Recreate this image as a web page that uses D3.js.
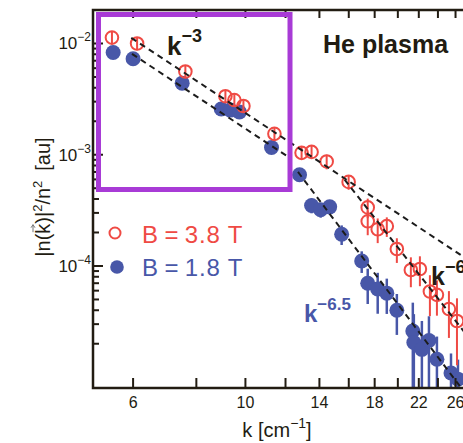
<!DOCTYPE html>
<html><head><meta charset="utf-8">
<script src="https://cdn.jsdelivr.net/npm/d3@7"></script>
<style>body{margin:0;background:#fff}svg{display:block}</style>
</head><body><svg id="c" width="463" height="443"></svg>
<script>
// ---- data ----
const kRed = [5.45, 6.11, 7.61, 9.13, 9.51, 9.91, 11.41, 12.91, 13.51, 14.47, 15.99, 17.44, 17.44, 18.25, 19.02, 19.91, 21.22, 22.11, 23.14, 23.89, 25.23, 26.17];
const vRed = [1.13e-2, 1.00e-2, 5.6e-3, 3.36e-3, 3.1e-3, 2.74e-3, 1.54e-3, 1.04e-3, 1.06e-3, 8.7e-4, 5.7e-4, 3.36e-4, 2.52e-4, 2.14e-4, 2.28e-4, 1.42e-4, 9.2e-5, 9.4e-5, 5.9e-5, 5.5e-5, 4.1e-5, 3.2e-5];
const eRed = [0.13, 0.13, 0.13, 0.13, 0.13, 0.13, 0.13, 0.13, 0.13, 0.15, 0.15, 0.2, 0.25, 0.25, 0.2, 0.25, 0.3, 0.3, 0.4, 0.35, 0.45, 0.6];

const kBlue = [5.48, 6.0, 7.50, 8.96, 9.34, 9.73, 11.26, 12.79, 13.51, 14.08, 14.67, 15.49, 16.97, 17.44, 18.25, 19.02, 19.91, 21.41, 21.51, 22.31, 23.04, 23.89, 25.47, 26.29];
const vBlue = [8.3e-3, 7.3e-3, 4.4e-3, 2.58e-3, 2.52e-3, 2.42e-3, 1.16e-3, 6.6e-4, 3.5e-4, 3.2e-4, 3.4e-4, 1.93e-4, 1.11e-4, 7.0e-5, 6.2e-5, 5.7e-5, 4.0e-5, 2.6e-5, 2.05e-5, 1.78e-5, 2.14e-5, 1.45e-5, 1.09e-5, 9.6e-6];
const eBlue = [0.12, 0.12, 0.12, 0.12, 0.12, 0.12, 0.12, 0.12, 0.15, 0.15, 0.15, 0.2, 0.22, 0.35, 0.4, 0.35, 0.4, 0.8, 0.8, 0.8, 0.65, 0.6, 0.5, 0.5];

// power-law guide lines: start/end points [k, value]
const lineStartK = [5.95, 5.97, 12.7, 15.7];
const lineStartV = [1.125e-2, 8.06e-3, 7.0e-4, 5.98e-4];
const lineEndK   = [30, 12.07, 26.8, 30];
const lineEndV   = [8.78e-5, 9.75e-4, 7.8e-6, 1.40e-5];

const xTicks = [6, 8, 10, 12, 14, 16, 18, 20, 22, 24, 26, 28, 30];
const xTickLabels = ["6", "", "10", "", "14", "", "18", "", "22", "", "26", "", "30"];
const yMajorTicks = [1e-4, 1e-3, 1e-2];
const yMajorLabels = ["\u22124", "\u22123", "\u22122"];

const legendLabels = ["B\u2009=\u20093.8 T", "B\u2009=\u20091.8 T"];

// ---- style ----
const RED = "#ef4a44", BLUE = "#4857a8", INK = "#221c12", PURPLE = "#a83bd6";
const FONT = "'Liberation Sans', Arial, Helvetica, sans-serif";

const svg = d3.select("#c").style("font-family", FONT);
const x = d3.scaleLog().domain([5, 30]).range([93, 487]);
const y = d3.scaleLog().domain([8e-6, 0.02]).range([388, 10]);
const X0 = 93, X1 = 470, Y0 = 388, Y1 = 10;

svg.append("defs").append("clipPath").attr("id", "plot")
  .append("rect").attr("x", X0).attr("y", Y1).attr("width", 400).attr("height", Y0 - Y1);

const plot = svg.append("g").attr("clip-path", "url(#plot)");

// blue series (filled)
const blue = kBlue.map((k, i) => ({k, v: vBlue[i], e: eBlue[i]}));
const red = kRed.map((k, i) => ({k, v: vRed[i], e: eRed[i]}));

plot.selectAll(".be").data(blue).join("line")
  .attr("x1", d => x(d.k)).attr("x2", d => x(d.k))
  .attr("y1", d => y(d.v * (1 + d.e))).attr("y2", d => y(Math.max(d.v * (1 - d.e), 1e-7)))
  .attr("stroke", BLUE).attr("stroke-width", 2.5);
plot.selectAll(".bc").data(blue).join("circle")
  .attr("cx", d => x(d.k)).attr("cy", d => y(d.v)).attr("r", 7.5)
  .attr("fill", BLUE);

plot.selectAll(".re").data(red).join("line")
  .attr("x1", d => x(d.k)).attr("x2", d => x(d.k))
  .attr("y1", d => y(d.v * (1 + d.e))).attr("y2", d => y(Math.max(d.v * (1 - d.e), 1e-7)))
  .attr("stroke", RED).attr("stroke-width", 2);
plot.selectAll(".rc").data(red).join("circle")
  .attr("cx", d => x(d.k)).attr("cy", d => y(d.v)).attr("r", 6.3)
  .attr("fill", "none").attr("stroke", RED).attr("stroke-width", 2);

// guide lines
const lines = lineStartK.map((k, i) => [[k, lineStartV[i]], [lineEndK[i], lineEndV[i]]]);
plot.selectAll(".fit").data(lines).join("path")
  .attr("d", d => d3.line().x(p => x(p[0])).y(p => y(p[1]))(d))
  .attr("fill", "none").attr("stroke", "#1c1c1c").attr("stroke-width", 2)
  .attr("stroke-dasharray", "6,4.5");

// axes frame
const ax = svg.append("g").attr("stroke", INK).attr("stroke-width", 2.5).attr("fill", "none");
ax.append("path").attr("d", `M${X0},${Y1}V${Y0}H${X1}M${X0},${Y1}H${X1}`).attr("stroke-linecap", "square");

// x ticks bottom and top
ax.selectAll(".xtb").data(xTicks).join("line")
  .attr("x1", d => x(d)).attr("x2", d => x(d)).attr("y1", Y0).attr("y2", Y0 - 10).attr("stroke-width", 2);
ax.selectAll(".xtt").data(xTicks).join("line")
  .attr("x1", d => x(d)).attr("x2", d => x(d)).attr("y1", Y1).attr("y2", Y1 + 8).attr("stroke-width", 2);

// y ticks
const yAll = y.ticks().filter(v => v >= 1.5e-5 && v < 0.0199);
ax.selectAll(".yt").data(yAll).join("line")
  .attr("x1", X0).attr("x2", d => X0 + (yMajorTicks.some(m => Math.abs(m - d) / m < 1e-6) ? 10 : 6))
  .attr("y1", d => y(d)).attr("y2", d => y(d)).attr("stroke-width", 2);

// x tick labels
svg.selectAll(".xl").data(xTicks.map((t, i) => ({t, s: xTickLabels[i]})).filter(d => d.s))
  .join("text").attr("x", d => x(d.t)).attr("y", 408).attr("text-anchor", "middle")
  .attr("font-size", 16).attr("fill", INK).text(d => d.s);

// y tick labels
yMajorTicks.forEach((t, i) => {
  const tx = svg.append("text").attr("x", 91).attr("y", y(t) + 6).attr("text-anchor", "end")
    .attr("font-size", 17).attr("fill", INK);
  tx.append("tspan").text("10");
  tx.append("tspan").attr("dy", -8).attr("font-size", 12).text(yMajorLabels[i]);
});

// x axis label
const xl = svg.append("text").attr("x", 277).attr("y", 437).attr("text-anchor", "middle")
  .attr("font-size", 20).attr("fill", INK);
xl.append("tspan").text("k [cm");
xl.append("tspan").attr("dy", -9).attr("font-size", 14).text("\u22121");
xl.append("tspan").attr("dy", 9).text("]");

// y axis label
const ylg = svg.append("g").attr("transform", "translate(50,197) rotate(-90)");
const yl = ylg.append("text").attr("text-anchor", "middle").attr("font-size", 20).attr("fill", INK);
yl.append("tspan").text("|n(k)|");
yl.append("tspan").attr("dy", -8).attr("font-size", 13).text("2");
yl.append("tspan").attr("dy", 8).text("/n");
yl.append("tspan").attr("dy", -8).attr("font-size", 13).text("2");
yl.append("tspan").attr("dy", 8).text("\u2002[au]");
try {
  const r = yl.node().getExtentOfChar(3);
  const ay = -17, ax0 = r.x + 1.5, ax1 = r.x + r.width - 1;
  ylg.append("path").attr("d", `M${ax0},${ay}H${ax1}M${ax1 - 3},${ay - 2}L${ax1},${ay}L${ax1 - 3},${ay + 2}`)
    .attr("stroke", "#777").attr("stroke-width", 1).attr("fill", "none");
} catch (e) {}

// annotations
const t1 = svg.append("text").attr("x", 167).attr("y", 55).attr("font-size", 26).attr("font-weight", "bold").attr("fill", INK);
t1.append("tspan").text("k");
t1.append("tspan").attr("dy", -13).attr("font-size", 18).text("\u22123");

svg.append("text").attr("x", 323).attr("y", 53).attr("font-size", 25).attr("font-weight", "bold")
  .attr("fill", INK).text("He plasma");

const t2 = svg.append("text").attr("x", 304).attr("y", 322).attr("font-size", 24).attr("font-weight", "bold").attr("fill", BLUE);
t2.append("tspan").text("k");
t2.append("tspan").attr("dy", -12).attr("font-size", 17).text("\u22126.5");

const t3 = svg.append("text").attr("x", 431).attr("y", 285).attr("font-size", 25).attr("font-weight", "bold").attr("fill", INK);
t3.append("tspan").text("k");
t3.append("tspan").attr("dy", -12).attr("font-size", 18).text("\u22126");

// legend
svg.append("circle").attr("cx", 115).attr("cy", 233).attr("r", 5.5).attr("fill", "none").attr("stroke", RED).attr("stroke-width", 2);
svg.append("circle").attr("cx", 117).attr("cy", 267).attr("r", 6.8).attr("fill", BLUE);
svg.append("text").attr("x", 142).attr("y", 243).attr("font-size", 24).attr("letter-spacing", 0.8).attr("fill", RED).text(legendLabels[0]);
svg.append("text").attr("x", 142).attr("y", 276).attr("font-size", 24).attr("letter-spacing", 0.8).attr("fill", BLUE).text(legendLabels[1]);

// highlight box
svg.append("rect").attr("x", 98.5).attr("y", 14.5).attr("width", 191.5).attr("height", 175)
  .attr("fill", "none").attr("stroke", PURPLE).attr("stroke-width", 5);
</script></body></html>
